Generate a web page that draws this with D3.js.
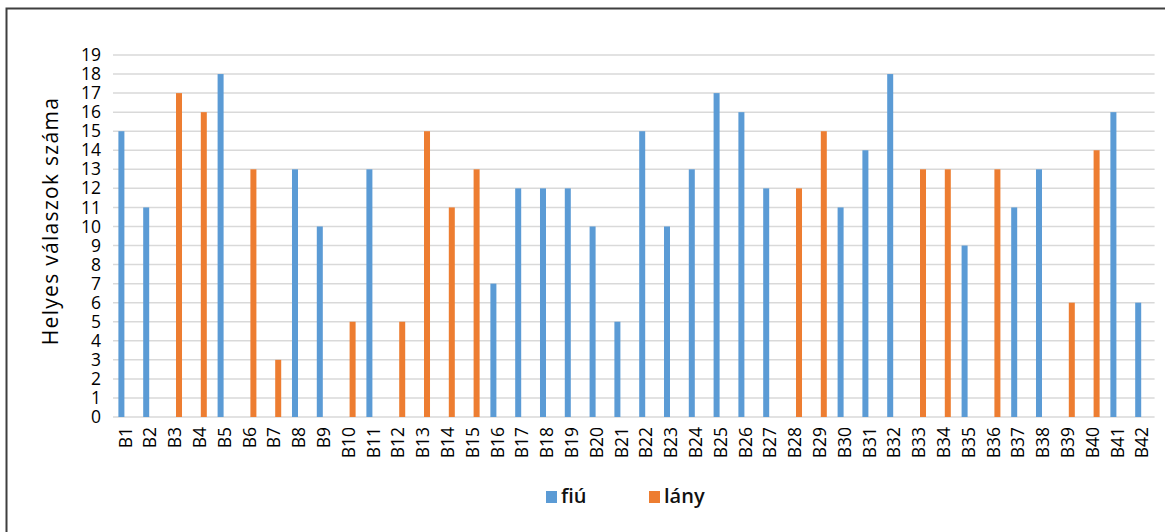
<!DOCTYPE html>
<html>
<head>
<meta charset="utf-8">
<script src="https://cdn.jsdelivr.net/npm/d3@7"></script>
<style>
  html, body { margin: 0; padding: 0; background: #fff; }
  svg { display: block; font-family: "Open Sans", "Noto Sans", sans-serif; }
</style>
</head>
<body>
<svg id="chart" width="1165" height="532"></svg>
<script>
// Question labels B1..B42
const categories = d3.range(1, 43).map(i => "B" + i);

// Correct answers per question, boys (null where not present)
const fiu = [15, 11, null, null, 18, null, null, 13, 10, null,
             13, null, null, null, null, 7, 12, 12, 12, 10,
             5, 15, 10, 13, 17, 16, 12, null, null, 11,
             14, 18, null, null, 9, null, 11, 13, null, null,
             16, 6];

// Correct answers per question, girls
const lany = [null, null, 17, 16, null, 13, 3, null, null, 5,
              null, 5, 15, 11, 13, null, null, null, null, null,
              null, null, null, null, null, null, null, 12, 15, null,
              null, null, 13, 13, null, 13, null, null, 6, 14,
              null, null];

const seriesNames = ["fiú", "lány"];
const seriesColors = ["#5b9bd5", "#ed7d31"];
const yTicks = d3.range(0, 20);

const svg = d3.select("#chart");
const W = 1165, H = 532;
const plotLeft = 113, plotRight = 1154.6, plotTop = 55, plotBottom = 417;

// Outer frame (top and left edges visible)
svg.append("path")
  .attr("d", `M6.5,${H} L6.5,8.5 L${W},8.5`)
  .attr("fill", "none")
  .attr("stroke", "#3f3f3f")
  .attr("stroke-width", 2);

const x = d3.scaleBand().domain(categories).range([plotLeft, plotRight]).paddingInner(0.435).paddingOuter(0.2175);
const x1 = d3.scaleBand().domain(seriesNames).range([0, x.bandwidth()]).paddingInner(0.25);
const y = d3.scaleLinear().domain([0, 19]).range([plotBottom, plotTop]);

// Horizontal gridlines
svg.append("g")
  .selectAll("line")
  .data(yTicks)
  .join("line")
  .attr("x1", plotLeft).attr("x2", plotRight)
  .attr("y1", d => y(d)).attr("y2", d => y(d))
  .attr("stroke", "#d9d9d9")
  .attr("stroke-width", 1.5);

// Y axis labels
const yAxis = d3.axisLeft(y).tickValues(yTicks).tickSize(0).tickPadding(12);
const gy = svg.append("g").attr("transform", `translate(${plotLeft},0)`).call(yAxis);
gy.select(".domain").remove();
gy.selectAll("text")
  .attr("font-size", 17.5)
  .attr("fill", "#000")
  .attr("font-family", "'Open Sans', 'Noto Sans', sans-serif");

// X axis labels, rotated
const xAxis = d3.axisBottom(x).tickSize(0).tickPadding(0);
const gx = svg.append("g").attr("transform", `translate(0,${plotBottom})`).call(xAxis);
gx.select(".domain").remove();
gx.selectAll("text")
  .attr("font-size", 17.5)
  .attr("fill", "#000")
  .attr("font-family", "'Open Sans', 'Noto Sans', sans-serif")
  .attr("text-anchor", "end")
  .attr("transform", "rotate(-90)")
  .attr("x", -10)
  .attr("y", 0)
  .attr("dy", "0.35em");

// Bars
const rows = categories.map((c, i) => ({ c, vals: [fiu[i], lany[i]] }));
const groups = svg.append("g")
  .selectAll("g")
  .data(rows)
  .join("g")
  .attr("transform", d => `translate(${x(d.c)},0)`);

groups.selectAll("rect")
  .data(d => d.vals.map((v, k) => ({ key: seriesNames[k], v, k })).filter(e => e.v != null))
  .join("rect")
  .attr("x", e => x1(e.key))
  .attr("width", x1.bandwidth())
  .attr("y", e => y(e.v))
  .attr("height", e => y(0) - y(e.v))
  .attr("fill", e => seriesColors[e.k]);

// Y axis title
svg.append("text")
  .attr("transform", `translate(58,221) rotate(-90)`)
  .attr("text-anchor", "middle")
  .attr("font-size", 21)
  .attr("letter-spacing", 1.3)
  .attr("fill", "#000")
  .text("Helyes válaszok száma");

// Legend
const legendX = [546, 649];
const legend = svg.append("g");
seriesNames.forEach((name, k) => {
  legend.append("rect")
    .attr("x", legendX[k]).attr("y", 491)
    .attr("width", 11).attr("height", 12)
    .attr("fill", seriesColors[k]);
  legend.append("text")
    .attr("x", legendX[k] + 15).attr("y", 503)
    .attr("font-size", 20)
    .attr("font-weight", 600)
    .attr("fill", "#111")
    .text(name);
});
</script>
</body>
</html>
